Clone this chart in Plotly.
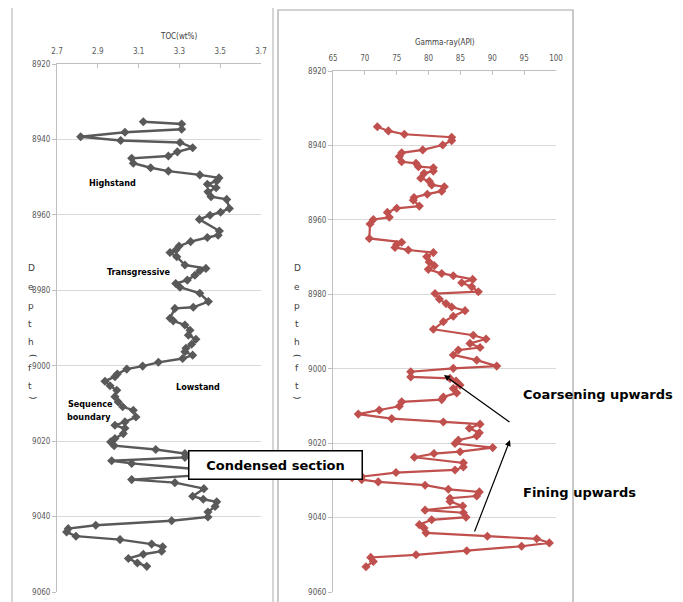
import plotly.graph_objects as go

W, H = 683, 602
OFF = 8  # page body offset of the figure inside the browser window

# ---------------- data ----------------
toc_value = [3.123, 3.311, 3.311, 3.033, 2.816, 3.012, 3.303, 3.365, 3.29, 3.246, 3.066, 3.074, 3.159, 3.246,
             3.40, 3.494, 3.483, 3.437, 3.48, 3.44, 3.455, 3.532, 3.545, 3.502, 3.45, 3.398, 3.496, 3.49,
             3.437, 3.355, 3.298, 3.283, 3.254, 3.287, 3.327, 3.43, 3.40, 3.376, 3.339, 3.282, 3.303, 3.40,
             3.442, 3.368, 3.278, 3.254, 3.27, 3.327, 3.352, 3.344, 3.381, 3.36, 3.332, 3.327, 3.365, 3.316,
             3.197, 3.12, 3.042, 2.996, 2.984, 2.935, 2.96, 2.993, 2.984, 3.0, 3.022, 3.074, 3.087, 3.033,
             2.984, 3.033, 3.025, 2.984, 2.963, 2.98, 3.184, 3.327, 3.327, 2.968, 3.066, 3.40, 3.40, 3.066,
             3.278, 3.42, 3.365, 3.417, 3.483, 3.475, 3.44, 3.44, 3.262, 2.89, 2.755, 2.747, 2.793, 3.009,
             3.164, 3.218, 3.213, 3.123, 3.05, 3.094, 3.14]
toc_depth = [8935.3, 8935.9, 8937.3, 8938.1, 8939.3, 8940.3, 8940.8, 8942.2, 8943.3, 8944.4, 8945.0, 8946.3,
             8947.5, 8948.4, 8949.4, 8950.2, 8951.0, 8951.9, 8952.8, 8953.9, 8955.2, 8955.9, 8958.3, 8959.3,
             8960.1, 8961.2, 8964.3, 8965.4, 8966.0, 8967.1, 8968.3, 8969.3, 8970.0, 8971.1, 8973.3, 8974.2,
             8974.8, 8976.0, 8977.3, 8978.2, 8979.2, 8980.8, 8983.0, 8984.5, 8984.8, 8987.4, 8988.1, 8989.2,
             8990.6, 8991.9, 8993.0, 8994.3, 8995.4, 8996.3, 8997.2, 8998.1, 8999.1, 9000.1, 9000.9, 9002.2,
             9002.9, 9004.1, 9005.3, 9006.5, 9008.2, 9009.6, 9010.9, 9011.8, 9013.6, 9014.9, 9015.8, 9016.6,
             9018.0, 9019.3, 9020.2, 9021.2, 9022.2, 9023.3, 9024.3, 9025.2, 9025.9, 9027.5, 9029.0, 9030.2,
             9031.0, 9032.6, 9034.6, 9035.4, 9036.1, 9037.3, 9038.8, 9040.1, 9041.1, 9042.3, 9043.2, 9044.1,
             9045.2, 9046.1, 9047.3, 9048.0, 9049.2, 9050.0, 9051.1, 9052.3, 9053.2]

gr_value = [71.96, 73.69, 76.2, 83.63, 83.63, 82.22, 79.08, 75.78, 75.4, 75.78, 78.03, 78.4, 80.75, 80.75,
            79.29, 78.77, 80.12, 80.49, 82.47, 82.06, 79.8, 77.72, 77.6, 78.55, 75.0, 73.53, 73.84, 71.33,
            70.81, 70.7, 75.78, 75.0, 74.73, 76.82, 80.75, 79.71, 80.1, 80.9, 79.96, 82.06, 83.88, 86.93,
            85.2, 86.77, 87.81, 81.01, 81.69, 82.74, 83.63, 85.72, 83.88, 82.32, 80.75, 87.02, 89.02, 86.5,
            88.08, 84.67, 83.88, 87.56, 90.7, 83.88, 77.2, 77.2, 83.37, 84.31, 84.94, 83.88, 84.42, 82.32,
            82.06, 75.78, 75.4, 72.27, 68.97, 74.21, 82.32, 88.08, 86.4, 87.97, 87.56, 84.67, 84.15, 90.07,
            84.94, 80.85, 77.77, 85.46, 85.46, 84.15, 74.89, 69.5, 68.0, 69.5, 72.1, 79.45, 83.1, 87.97,
            87.56, 83.37, 83.37, 85.36, 79.45, 85.46, 85.88, 80.49, 78.55, 79.29, 79.6, 89.23, 96.98, 98.96,
            94.6, 85.99, 78.03, 70.92, 71.33, 70.18]
gr_depth = [8935.0, 8936.1, 8937.0, 8937.8, 8938.7, 8939.9, 8941.2, 8942.0, 8943.0, 8944.4, 8944.8, 8945.7,
            8946.0, 8946.9, 8947.5, 8948.8, 8949.6, 8950.6, 8951.1, 8952.3, 8953.1, 8954.0, 8954.7, 8956.3,
            8956.9, 8958.0, 8959.3, 8959.9, 8961.1, 8965.0, 8966.0, 8966.6, 8967.4, 8968.1, 8968.8, 8969.9,
            8971.3, 8972.3, 8973.3, 8974.4, 8975.0, 8976.0, 8976.9, 8978.0, 8979.3, 8979.8, 8981.3, 8982.5,
            8983.4, 8984.4, 8985.9, 8987.4, 8989.4, 8991.0, 8992.0, 8993.2, 8994.3, 8995.0, 8996.3, 8997.7,
            8999.3, 8999.9, 9000.8, 9002.2, 9002.6, 9003.3, 9004.4, 9005.3, 9006.5, 9007.6, 9008.3, 9008.9,
            9010.1, 9011.1, 9012.2, 9013.4, 9014.3, 9014.9, 9016.0, 9017.2, 9018.1, 9019.2, 9020.1, 9021.2,
            9022.3, 9022.8, 9023.8, 9025.3, 9026.4, 9027.2, 9027.9, 9028.9, 9029.3, 9029.8, 9030.4, 9031.3,
            9032.4, 9033.1, 9034.2, 9034.8, 9035.7, 9036.9, 9038.0, 9038.7, 9039.9, 9040.6, 9041.9, 9042.8,
            9044.1, 9045.0, 9045.7, 9046.8, 9047.7, 9048.9, 9050.0, 9050.7, 9051.8, 9053.2]

depth_ticks = [8920, 8940, 8960, 8980, 9000, 9020, 9040, 9060]
toc_ticks = [2.7, 2.9, 3.1, 3.3, 3.5, 3.7]
gr_ticks = [65, 70, 75, 80, 85, 90, 95, 100]

# ---------------- helpers ----------------
def px(x):
    return (x - OFF) / W

def py(y):
    return 1 - (y - OFF) / H

NARROW = "DejaVu Sans Condensed, Liberation Sans Narrow, Arial Narrow, sans-serif"
TICKFONT = dict(family=NARROW, size=8, color="#595959")
LABFONT = dict(family=NARROW, size=9, color="#000000")
BIGFONT = dict(family="DejaVu Sans, Verdana, sans-serif", size=13, color="#000000")

fig = go.Figure()

fig.add_trace(go.Scatter(x=toc_value, y=toc_depth, mode="lines+markers",
                         line=dict(color="#595959", width=2.4),
                         marker=dict(symbol="diamond", size=7, color="#595959"),
                         xaxis="x", yaxis="y", showlegend=False))
fig.add_trace(go.Scatter(x=gr_value, y=gr_depth, mode="lines+markers",
                         line=dict(color="#C0504D", width=2.2),
                         marker=dict(symbol="diamond", size=7, color="#C0504D"),
                         xaxis="x2", yaxis="y2", showlegend=False))

common_x = dict(side="top", showgrid=False, showline=True, linecolor="#bfbfbf", linewidth=1,
                ticks="inside", ticklen=4, tickcolor="#bfbfbf", tickfont=TICKFONT,
                zeroline=False, ticklabelstandoff=6, automargin=False)
common_y = dict(range=[9060, 8920], tickmode="array", tickvals=depth_ticks,
                showgrid=True, gridcolor="#d9d9d9", gridwidth=1,
                showline=True, linecolor="#bfbfbf", linewidth=1,
                ticks="outside", ticklen=4, tickcolor="#bfbfbf", tickfont=TICKFONT, zeroline=False,
                automargin=False)

fig.update_layout(
    width=W, height=H,
    margin=dict(l=0, r=0, t=0, b=0, pad=0, autoexpand=False),
    paper_bgcolor="white", plot_bgcolor="white",
    xaxis=dict(domain=[px(57), px(261)], range=[2.7, 3.7], tickmode="array", tickvals=toc_ticks,
               anchor="y", **common_x),
    yaxis=dict(domain=[py(592), py(64)], anchor="x", **common_y),
    xaxis2=dict(domain=[px(333), px(556)], range=[65, 100], tickmode="array", tickvals=gr_ticks,
                anchor="y2", **common_x),
    yaxis2=dict(domain=[py(592), py(71)], anchor="x2", **common_y),
)

# panel frames
shapes = [
    dict(type="line", xref="paper", yref="paper", x0=px(12), x1=px(12), y0=py(5), y1=py(620),
         line=dict(color="#c8c8c8", width=1.5)),
    dict(type="line", xref="paper", yref="paper", x0=px(273), x1=px(273), y0=py(5), y1=py(620),
         line=dict(color="#c8c8c8", width=1.5)),
    dict(type="rect", xref="paper", yref="paper", x0=px(278), x1=px(573), y0=py(620), y1=py(10),
         line=dict(color="#a6a6a6", width=1.2)),
]
fig.update_layout(shapes=shapes)

ann = []
# axis titles
ann.append(dict(text="TOC(wt%)", x=px(158), y=py(30), xref="paper", yref="paper", showarrow=False,
                font=dict(family=NARROW, size=8, color="#404040")))
ann.append(dict(text="Gamma-ray(API)", x=px(445), y=py(36), xref="paper", yref="paper", showarrow=False,
                font=dict(family=NARROW, size=8, color="#404040")))

# vertical depth labels
letters = ["D", "e", "p", "t", "h", "(", "f", "t", ")"]
ys = [268, 287, 306, 324, 342, 356, 368, 386, 398]
for xc in (26, 297):
    for ch, yy in zip(letters, ys):
        ang = 90 if ch in "()" else 0
        ann.append(dict(text=ch, x=px(xc), y=py(yy), xref="paper", yref="paper", showarrow=False,
                        textangle=ang,
                        font=dict(family="DejaVu Sans, sans-serif", size=9, color="#404040")))

# sequence labels
for txt, xc, yc in [("<b>Highstand</b>", 87, 176), ("<b>Transgressive</b>", 105, 272),
                    ("<b>Lowstand</b>", 174, 387), ("<b>Sequence</b>", 66, 404), ("<b>boundary</b>", 65, 424)]:
    ann.append(dict(text=txt, x=px(xc), y=py(yc), xref="paper", yref="paper", showarrow=False, font=LABFONT))

# condensed section box
ann.append(dict(text="<b>Condensed section</b>", x=px(275), y=py(479.5), xref="paper", yref="paper",
                showarrow=False, font=BIGFONT, bgcolor="white", bordercolor="black", borderwidth=1.5,
                borderpad=5, width=162, height=17))

# right annotations
ann.append(dict(text="<b>Coarsening upwards</b>", x=px(521), y=py(394), xref="paper", yref="paper",
                xanchor="left", showarrow=False, font=BIGFONT))
ann.append(dict(text="<b>Fining upwards</b>", x=px(521), y=py(502), xref="paper", yref="paper",
                xanchor="left", showarrow=False, font=BIGFONT))

# arrows
ann.append(dict(text="", x=px(444), y=py(375), xref="paper", yref="paper", showarrow=True,
                ax=511 - 444, ay=423 - 375, axref="pixel", ayref="pixel",
                arrowhead=2, arrowsize=1, arrowwidth=1.2, arrowcolor="black"))
ann.append(dict(text="", x=px(510), y=py(440), xref="paper", yref="paper", showarrow=True,
                ax=474 - 510, ay=533 - 440, axref="pixel", ayref="pixel",
                arrowhead=2, arrowsize=1, arrowwidth=1.2, arrowcolor="black"))

fig.update_layout(annotations=ann)

fig.write_html("out.html")
